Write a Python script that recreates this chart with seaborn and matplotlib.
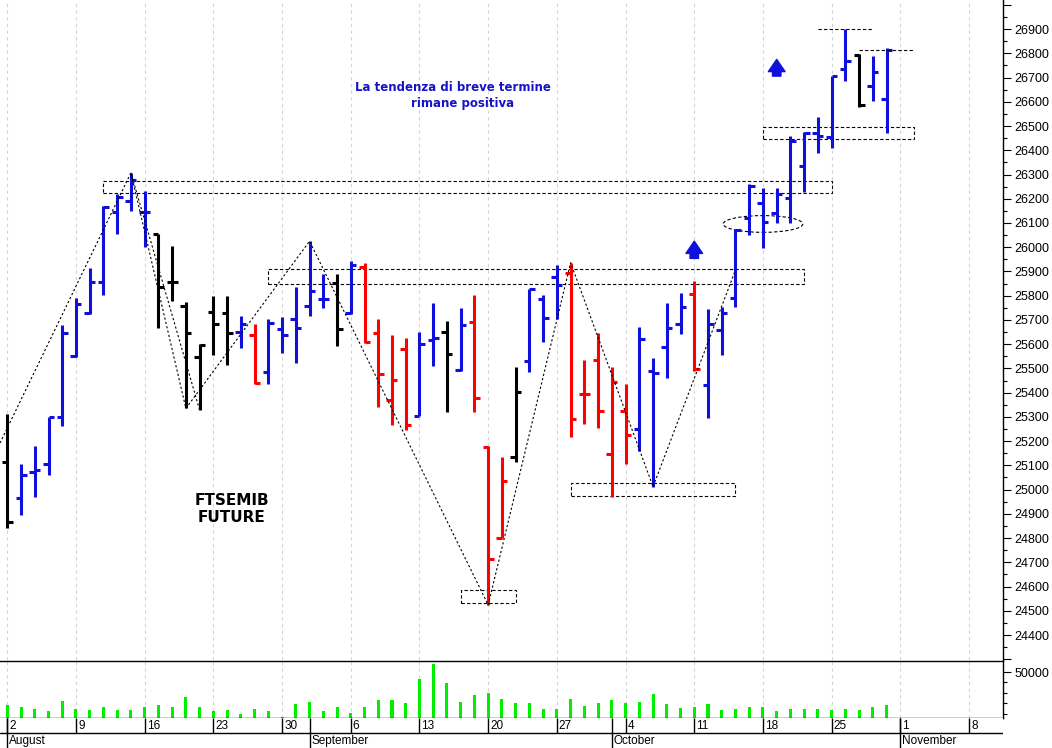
import numpy as np
import pandas as pd
import seaborn as sns
import matplotlib.pyplot as plt
from matplotlib.patches import Rectangle, Ellipse

# daily FTSEMIB future bars, 2 Aug - 29 Oct 2021
opens = [25113, 24964, 25071, 25106, 25300, 25550, 25727, 25858, 26145, 26190,
         26144, 26054, 25858, 25757, 25548, 25734, 25727, 25651, 25638, 25486,
         25661, 25702, 25759, 25786, 25853, 25727, 25920, 25645, 25370, 25579,
         25304, 25617, 25649, 25493, 25693, 25177, 24799, 25136, 25530, 25785,
         25878, 25895, 25393, 25535, 25147, 25324, 25249, 25490, 25587, 25683,
         25807, 25431, 25658, 25789, 26119, 26184, 26142, 26202, 26335, 26470,
         26456, 26734, 26793, 26666, 26610]
highs = [25311, 25104, 25181, 25301, 25679, 25789, 25913, 26170, 26218, 26307,
         26233, 26054, 26005, 25775, 25601, 25799, 25799, 25717, 25683, 25702,
         25711, 25834, 26025, 25889, 25889, 25944, 25934, 25702, 25638, 25624,
         25651, 25768, 25697, 25748, 25803, 25181, 25136, 25504, 25827, 25803,
         25926, 25936, 25535, 25647, 25507, 25434, 25670, 25542, 25768, 25810,
         25862, 25745, 25755, 26074, 26259, 26243, 26243, 26459, 26476, 26538,
         26706, 26899, 26796, 26789, 26824]
lows = [24843, 24895, 24971, 25060, 25262, 25548, 25724, 25803, 26054, 26149,
        26002, 25668, 25779, 25335, 25328, 25555, 25514, 25585, 25436, 25436,
        25565, 25521, 25716, 25748, 25592, 25724, 25604, 25342, 25266, 25246,
        25304, 25510, 25321, 25490, 25321, 24524, 24799, 25113, 25486, 25608,
        25704, 25218, 25269, 25253, 24971, 25104, 25159, 25012, 25459, 25641,
        25490, 25294, 25555, 25755, 26050, 25995, 26101, 26101, 26229, 26390,
        26410, 26685, 26577, 26604, 26470]
closes = [24868, 25060, 25081, 25300, 25645, 25766, 25858, 26165, 26208, 26277,
          26144, 25837, 25858, 25645, 25597, 25683, 25645, 25683, 25439, 25686,
          25638, 25665, 25820, 25786, 25661, 25926, 25608, 25477, 25452, 25266,
          25601, 25624, 25559, 25679, 25377, 24712, 25037, 25404, 25826, 25707,
          25844, 25290, 25393, 25324, 25443, 25225, 25620, 25482, 25665, 25752,
          25496, 25683, 25730, 26071, 26254, 26105, 26219, 26439, 26472, 26459,
          26706, 26768, 26586, 26721, 26813]
# trend colour of each bar, one group per week: b = blue, r = red, k = black
trend = list("kbbbb bbbbb bkkkk kkbrb bbbbk brrrr bbkbr rrkbb brrrr rbbbb rbbbb bbbbb bbkbb".replace(" ", ""))
volumes = [18000, 16000, 14400, 12200, 22100, 14100, 13500, 16000, 13500, 13200,
           16300, 18000, 16300, 26300, 16300, 12800, 13500, 9300, 14100, 12200,
           7000, 19200, 21500, 12500, 16000, 10600, 16000, 23100, 23100, 19900,
           43600, 57700, 39100, 21200, 28200, 29800, 24300, 19900, 19900, 14400,
           14100, 24300, 16900, 20500, 23100, 19900, 21500, 28800, 18900, 15000,
           16000, 18900, 13200, 14700, 16300, 16000, 12200, 14100, 14100, 14100,
           13500, 14100, 13200, 16000, 18000]

days = pd.bdate_range("2021-08-02", "2021-11-12")
month_names = ["August", "September", "October", "November"]

# chart annotations (bar index, price)
zigzag_x = [-0.53, 9, 13, 22, 35, 41, 47, 53]
zigzag_y = [25192, 26307, 25335, 26025, 24524, 25936, 25012, 25906]
boxes = [(7, 60, 26222, 26273), (19, 58, 25847, 25910), (33, 37, 24531, 24586),
         (41, 53, 24975, 25026), (55, 66, 26445, 26497)]
levels = [(59, 63, 26900), (62, 66, 26813)]
arrows = [(56, 26706, 26775), (50, 25954, 26025)]

sns.set_theme(style="white")
plt.rcParams["font.family"] = ["Liberation Sans", "DejaVu Sans"]
plt.rcParams["text.color"] = "black"

palette = {"b": "#1010dd", "r": "#ff0000", "k": "#000000"}
cols = [palette[t] for t in trend]
n = len(opens)
x = np.arange(n)

W, H = 1052, 748
def place(l, t, r, b):
    return [l / W, 1 - b / H, (r - l) / W, (b - t) / H]

fig = plt.figure(figsize=(W / 100, H / 100), dpi=100)
ax = fig.add_axes(place(0, 0, 1003, 660))
axv = fig.add_axes(place(0, 661, 1003, 718), sharex=ax)
axd = fig.add_axes(place(0, 718, 1003, 748), sharex=ax)

mondays = [i for i, d in enumerate(days) if d.weekday() == 0]
month_starts = [0] + [i for i in range(1, len(days)) if days[i].month != days[i - 1].month]

# price bars
ax.vlines(x, lows, highs, colors=cols, lw=2.2)
ax.hlines(opens, x - 0.4, x, colors=cols, lw=2.2)
ax.hlines(closes, x, x + 0.4, colors=cols, lw=2.2)

for a in (ax, axv):
    for m in mondays:
        a.axvline(m, color="#d4d4d4", lw=0.8, ls=(0, (3, 3)), zorder=0)

ax.plot(zigzag_x, zigzag_y, color="black", lw=0.8, ls=(0, (2, 2)))
ax.plot([9, 14], [26307, 25328], color="black", lw=0.8, ls=(0, (2, 2)))
for x0, x1, y0, y1 in boxes:
    ax.add_patch(Rectangle((x0, y0), x1 - x0, y1 - y0, fill=False, ec="black",
                           lw=0.8, ls=(0, (3, 2))))
for x0, x1, y in levels:
    ax.plot([x0, x1], [y, y], color="black", lw=0.8, ls=(0, (3, 2)))
ax.add_patch(Ellipse((55, 26096), 5.8, 69, fill=False, ec="black", lw=0.8,
                     ls=(0, (3, 2))))
for xa, y0, y1 in arrows:
    ax.annotate("", xy=(xa, y1), xytext=(xa, y0),
                arrowprops=dict(arrowstyle="simple,head_length=0.55,head_width=0.75,tail_width=0.38",
                                color="#1010dd", mutation_scale=16, shrinkA=0, shrinkB=0))

ax.text(32.4, 26660, "La tendenza di breve termine", color="#1414c8", fontsize=8.5,
        fontweight="bold", ha="center", va="center", family=["DejaVu Sans"])
ax.text(33.1, 26595, "rimane positiva", color="#1414c8", fontsize=8.5,
        fontweight="bold", ha="center", va="center", family=["DejaVu Sans"])
ax.text(16.35, 24955, "FTSEMIB", fontsize=11, fontweight="bold", ha="center",
        va="center", color="black", family=["DejaVu Sans"])
ax.text(16.35, 24885, "FUTURE", fontsize=11, fontweight="bold", ha="center",
        va="center", color="black", family=["DejaVu Sans"])

ax.set_ylim(24297, 27020)
major = np.arange(24300, 27001, 100)
ax.set_yticks(major)
ax.set_yticklabels([str(v) if 24400 <= v <= 26900 else "" for v in major])
ax.set_yticks(np.arange(24350, 27001, 100), minor=True)

# volume
sns.barplot(x=x, y=volumes, ax=axv, native_scale=True, width=0.22,
            color="#00ee00", saturation=1, errorbar=None, linewidth=0)
axv.set_ylim(5770, 60577)
axv.set_yticks([50000])
axv.set_yticklabels(["50000"])
axv.set_yticks([10000, 20000, 30000, 40000], minor=True)
axv.set_xlabel("")
axv.set_ylabel("")

for a in (ax, axv):
    a.yaxis.tick_right()
    a.tick_params(axis="y", which="major", direction="out", length=6, width=0.8,
                  color="black", labelsize=9, pad=2, labelcolor="black")
    a.tick_params(axis="y", which="minor", direction="out", length=3, width=0.8,
                  color="black", right=True, left=False)
    a.tick_params(axis="x", bottom=False, labelbottom=False)
    for s in a.spines.values():
        s.set_visible(False)
    a.spines["right"].set_visible(True)
    a.spines["right"].set_color("black")
    a.spines["right"].set_linewidth(1)
axv.spines["top"].set_visible(True)
axv.spines["bottom"].set_visible(True)
for s in ("top", "bottom"):
    axv.spines[s].set_color("black")
    axv.spines[s].set_linewidth(1)

# date rows
axd.set_ylim(0, 1)
axd.axhline(0.5, color="black", lw=1)
axd.vlines(mondays, 0.5, 1, color="black", lw=1)
axd.vlines(month_starts, 0, 1, color="black", lw=1)
for m in mondays:
    axd.text(m + 0.15, 0.74, str(days[m].day), fontsize=8.5, ha="left", va="center",
             color="black")
for m, name in zip(month_starts, month_names):
    axd.text(m + 0.15, 0.24, name, fontsize=8.5, ha="left", va="center", color="black")
axd.set_xticks([])
axd.set_yticks([])
for s in axd.spines.values():
    s.set_visible(False)

ax.set_xlim(-0.53, 72.47)

fig.savefig("out.png", dpi=100)
